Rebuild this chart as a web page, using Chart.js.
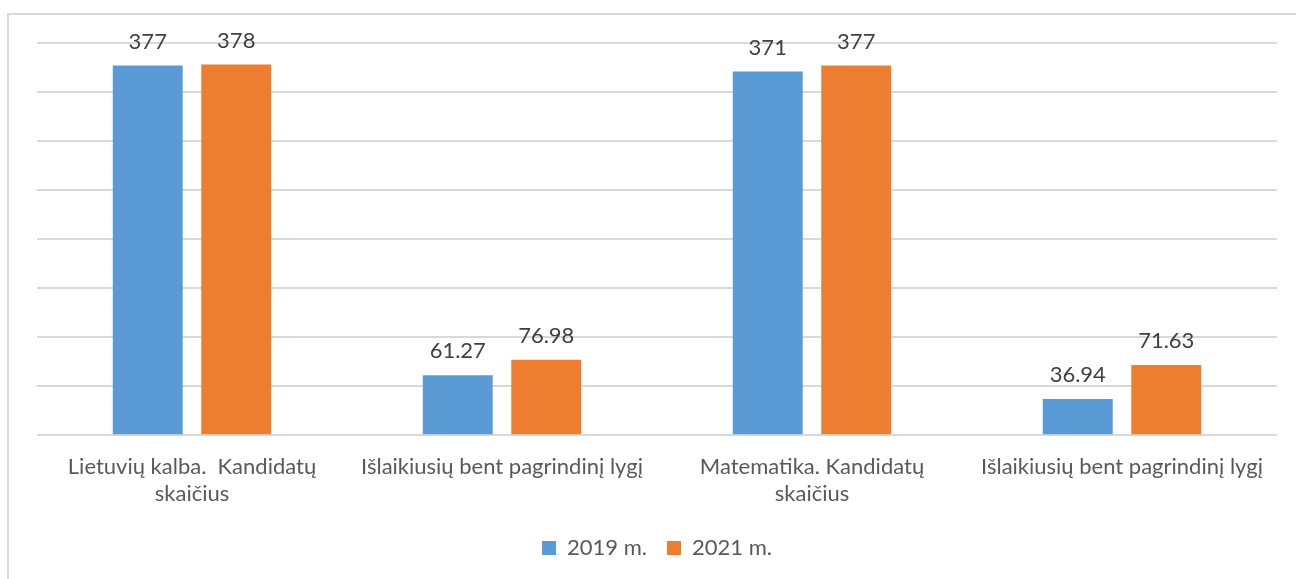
<!DOCTYPE html>
<html>
<head>
<meta charset="utf-8">
<script src="https://cdn.jsdelivr.net/npm/chart.js@4"></script>
<style>
  html, body { margin: 0; padding: 0; background: #fff; }
  #wrap { position: relative; width: 1296px; height: 579px; overflow: hidden; }
  #frame { position: absolute; left: 7px; top: 13px; width: 1400px; height: 700px;
           border-top: 2px solid #d9d9d9; border-left: 2px solid #d9d9d9; box-sizing: border-box; }
  #chart { position: absolute; left: 0; top: 0; }
</style>
</head>
<body>
<div id="wrap">
  <div id="frame"></div>
  <canvas id="chart" width="1296" height="579"></canvas>
</div>
<script>
const categories = [
  ["Lietuvių kalba.  Kandidatų", "skaičius"],
  "Išlaikiusių bent pagrindinį lygį",
  ["Matematika. Kandidatų", "skaičius"],
  "Išlaikiusių bent pagrindinį lygį"
];
const seriesNames = ["2019 m.", "2021 m."];
const values2019 = [377, 61.27, 371, 36.94];
const values2021 = [378, 76.98, 377, 71.63];
const colors = ["#5b9bd5", "#ed7d31"];

const fontFamily = "Lato, 'Open Sans', sans-serif";
const fontSize = 22;

// value labels above each bar
const barLabels = {
  id: "barLabels",
  afterDatasetsDraw(chart) {
    const ctx = chart.ctx;
    ctx.save();
    ctx.font = fontSize + "px " + fontFamily;
    ctx.fillStyle = "#404040";
    ctx.textAlign = "center";
    ctx.textBaseline = "bottom";
    chart.data.datasets.forEach((ds, i) => {
      chart.getDatasetMeta(i).data.forEach((bar, j) => {
        ctx.fillText(String(ds.data[j]), bar.x, bar.y - 13);
      });
    });
    ctx.restore();
  }
};

new Chart(document.getElementById("chart"), {
  type: "bar",
  data: {
    labels: categories,
    datasets: [
      { label: seriesNames[0], data: values2019, backgroundColor: colors[0] },
      { label: seriesNames[1], data: values2021, backgroundColor: colors[1] }
    ]
  },
  options: {
    responsive: false,
    animation: false,
    categoryPercentage: 0.571,
    barPercentage: 0.79,
    layout: { padding: { left: 37, right: 19, top: 43, bottom: 10 } },
    scales: {
      x: {
        grid: { display: false },
        border: { display: false },
        ticks: { color: "#595959", font: { family: fontFamily, size: fontSize, lineHeight: 1.22 }, padding: 10, maxRotation: 0 }
      },
      y: {
        min: 0,
        max: 400,
        ticks: { display: false, stepSize: 50 },
        border: { display: false },
        grid: { color: "#d9d9d9", lineWidth: 2, drawTicks: false }
      }
    },
    plugins: {
      legend: {
        position: "bottom",
        labels: {
          color: "#595959",
          font: { family: fontFamily, size: fontSize },
          boxWidth: 14,
          boxHeight: 14,
          padding: 20
        }
      },
      tooltip: { enabled: false }
    }
  },
  plugins: [barLabels]
});
</script>
</body>
</html>
